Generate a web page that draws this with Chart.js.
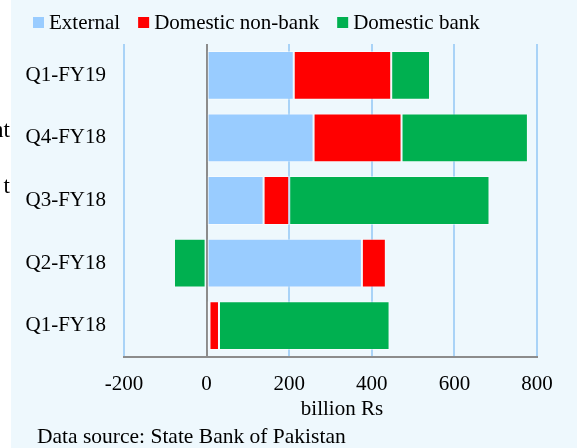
<!DOCTYPE html>
<html>
<head>
<meta charset="utf-8">
<script src="https://cdn.jsdelivr.net/npm/chart.js@4"></script>
<style>
  html, body { margin: 0; padding: 0; background: #ffffff; }
  #wrap { width: 577px; height: 448px; }
</style>
</head>
<body>
<div id="wrap"><canvas id="myChart" width="577" height="448"></canvas></div>
<script>
// data (billion Rs)
const categories = ['Q1-FY19', 'Q4-FY18', 'Q3-FY18', 'Q2-FY18', 'Q1-FY18'];
const external = [211, 259, 138, 376, 7];
const domesticNonBank = [236, 213, 62, 58, 23];
const domesticBank = [94, 306, 485, -79, 413];
const xTicks = [-200, 0, 200, 400, 600, 800];

const FONT = "'Liberation Serif', 'Times New Roman', serif";
const BG = '#eef8fd';

// background + extra texts drawn on the canvas
const decor = {
  id: 'decor',
  beforeDraw(chart) {
    const c = chart.ctx;
    c.save();
    c.fillStyle = '#ffffff';
    c.fillRect(0, 0, chart.width, chart.height);
    c.fillStyle = BG;
    c.fillRect(11, 0, chart.width - 11, chart.height);
    c.restore();
  },
  afterDraw(chart) {
    const c = chart.ctx;
    c.save();
    c.fillStyle = '#000000';
    c.textBaseline = 'middle';
    c.font = '21px ' + FONT;

    // legend
    let x = 33;
    chart.data.datasets.forEach(ds => {
      c.fillStyle = ds.backgroundColor;
      c.fillRect(x, 17, 11, 11);
      c.fillStyle = '#000000';
      c.textAlign = 'left';
      c.fillText(ds.label, x + 16, 23);
      x += 16 + c.measureText(ds.label).width + 18;
    });

    // axis title
    c.textAlign = 'center';
    c.fillText('billion Rs', 342, 409);

    // source note
    c.textAlign = 'left';
    c.textBaseline = 'alphabetic';
    c.font = '21.5px ' + FONT;
    c.fillText('Data source: State Bank of Pakistan', 37, 443);

    // cut-off text at the left edge
    c.font = '23px ' + FONT;
    c.textAlign = 'right';
    c.save();
    c.beginPath();
    c.rect(0, 0, 11, chart.height);
    c.clip();
    c.fillText('nt', 10, 137);
    c.fillText('t', 10, 193);
    c.restore();
    c.restore();
  }
};

function renderChart() {
  const ctx = document.getElementById('myChart').getContext('2d');
  const bar = { barPercentage: 0.78, categoryPercentage: 1, borderWidth: 1, borderColor: 'rgba(255,255,255,0.45)', borderSkipped: false };
  new Chart(ctx, {
    type: 'bar',
    data: {
      labels: categories,
      datasets: [
        Object.assign({ label: 'External', data: external, backgroundColor: '#99ccff' }, bar),
        Object.assign({ label: 'Domestic non-bank', data: domesticNonBank, backgroundColor: '#ff0000' }, bar),
        Object.assign({ label: 'Domestic bank', data: domesticBank, backgroundColor: '#00b050' }, bar)
      ]
    },
    options: {
      indexAxis: 'y',
      responsive: false,
      animation: false,
      devicePixelRatio: 1,
      layout: { padding: { left: 0, right: 40, top: 44, bottom: 0 } },
      scales: {
        x: {
          stacked: true,
          min: -200,
          max: 800,
          afterBuildTicks: s => { s.ticks = xTicks.map(v => ({ value: v })); },
          afterFit: s => { s.height = 91; },
          ticks: {
            color: '#000000',
            padding: 15,
            font: { family: FONT, size: 21 }
          },
          grid: {
            drawTicks: false,
            lineWidth: 2,
            color: c => (c.tick && c.tick.value === 0) ? '#8c8c8c' : '#a9d3f7'
          },
          border: { display: true, color: '#8c8c8c', width: 2 }
        },
        y: {
          stacked: true,
          afterFit: s => { s.width = 124; },
          ticks: {
            color: '#000000',
            padding: 18,
            font: { family: FONT, size: 21 }
          },
          grid: { display: false, drawTicks: false },
          border: { display: false }
        }
      },
      plugins: {
        legend: { display: false },
        tooltip: { enabled: false }
      }
    },
    plugins: [decor]
  });
}

renderChart();
</script>
</body>
</html>
